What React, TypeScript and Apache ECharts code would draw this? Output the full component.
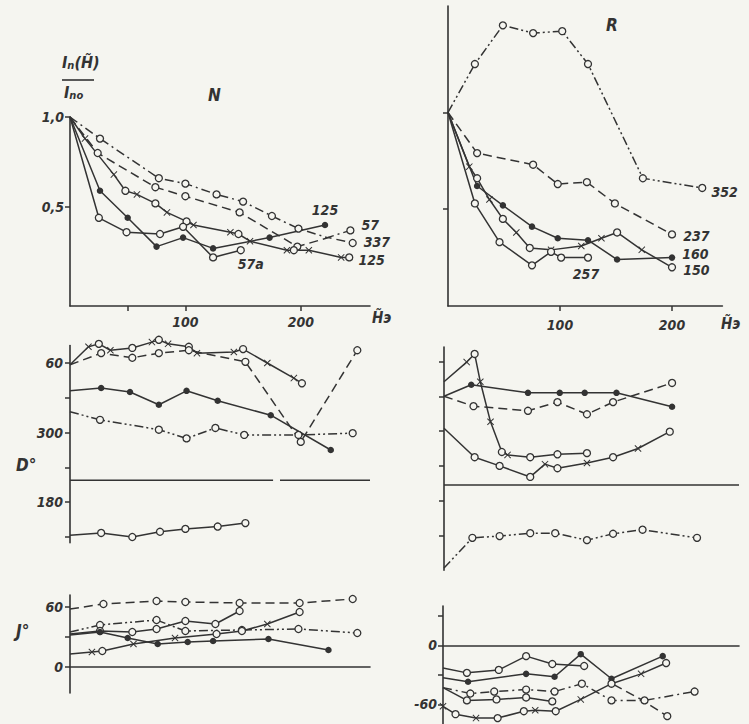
import React, { useEffect, useRef } from "react";
import * as echarts from "echarts";

// ---------- data (H in Oe) ----------
// Top-left panel N : I_n(H)/I_n0
const nH57 = [0, 26, 77, 100, 127, 150, 175, 198, 223, 243];
const nI57 = [1.0, 0.88, 0.66, 0.63, 0.57, 0.53, 0.45, 0.38, 0.33, 0.37];
const nM57 = "nooooooono";
const nH337 = [0, 24, 74, 100, 147, 197, 224, 245];
const nI337 = [1.0, 0.8, 0.61, 0.56, 0.47, 0.28, 0.33, 0.3];
const nM337 = "nooooono";
const nH125b = [0, 13, 38, 48, 58, 74, 84, 101, 107, 139, 146, 156, 188, 194, 207, 235, 242];
const nI125b = [1.0, 0.88, 0.68, 0.59, 0.57, 0.52, 0.47, 0.42, 0.4, 0.36, 0.35, 0.31, 0.26, 0.26, 0.26, 0.22, 0.22];
const nM125b = "nxxoxoxoxxoxxoxxo";
const nH125a = [0, 26, 50, 75, 98, 124, 173, 221];
const nI125a = [1.0, 0.59, 0.44, 0.28, 0.33, 0.27, 0.33, 0.4];
const nM125a = "nfffffff";
const nH57a = [0, 25, 49, 78, 98, 124, 148];
const nI57a = [1.0, 0.44, 0.36, 0.35, 0.39, 0.22, 0.26];
const nM57a = "noooooo";

// Top-right panel R
const rH352 = [0, 24, 49, 76, 102, 125, 174, 227];
const rI352 = [1.0, 1.25, 1.45, 1.41, 1.42, 1.25, 0.66, 0.61];
const rM352 = "nooooooo";
const rH237 = [0, 26, 76, 98, 124, 149, 200];
const rI237 = [1.0, 0.79, 0.73, 0.63, 0.64, 0.53, 0.37];
const rM237 = "nooooooo";
const rH160 = [0, 26, 49, 75, 98, 125, 151, 200];
const rI160 = [1.0, 0.62, 0.52, 0.41, 0.35, 0.34, 0.24, 0.25];
const rM160 = "nfffffff";
const rH150 = [0, 19, 26, 37, 49, 61, 73, 92, 119, 137, 151, 173, 200];
const rI150 = [1.0, 0.72, 0.66, 0.55, 0.45, 0.38, 0.3, 0.29, 0.31, 0.35, 0.38, 0.29, 0.2];
const rM150 = "nxoxoxoxxxoxo";
const rH257 = [0, 24, 46, 75, 92, 101, 125];
const rI257 = [1.0, 0.53, 0.33, 0.21, 0.28, 0.25, 0.25];
const rM257 = "noooooo";

// Middle panels: declination D (unwrapped: values > 180 stored as D - 360)
const dNH_a = [0, 16, 25, 35, 54, 71, 77, 85, 103, 110, 142, 150, 171, 194, 201];
const dNU_a = [57, 88, 93, 82, 86, 96, 100, 93, 88, 77, 79, 84, 60, 34, 25];
const dNM_a = "nxoxoxoxoxxoxxo";
const dNH_b = [0, 27, 54, 77, 103, 152, 200, 249];
const dNU_b = [57, 77, 69, 77, 82, 62, -76, 82];
const dNM_b = "nooooooo";
const dNH_c = [0, 27, 52, 77, 101, 128, 174, 226];
const dNU_c = [12, 17, 10, -12, 12, -5, -30, -90];
const dNM_c = "nfffffff";
const dNH_d = [0, 26, 77, 101, 126, 151, 198, 245];
const dNU_d = [-24, -38, -55, -70, -52, -64, -64, -61];
const dNM_d = "nooooooo";
const dNH_e = [0, 27, 54, 78, 100, 128, 152];
const dNU_e = [-237, -233, -240, -231, -226, -222, -216];
const dNM_e = "noooooo";
const dNSepH1 = [0, 176];
const dNSepH2 = [182, 260];
const dNSepU = -142;

const dRH_a = [0, 20, 27, 32, 41, 51, 56, 76, 100, 126];
const dRU_a = [25, 59, 73, 25, -44, -96, -101, -105, -100, -98];
const dRM_a = "nxoxxoxooo";
const dRH_b = [0, 27, 49, 76, 89, 100, 126, 149, 171, 199];
const dRU_b = [-55, -105, -120, -139, -117, -124, -115, -105, -90, -61];
const dRM_b = "noooxoxoxo";
const dRH_c = [0, 24, 74, 102, 124, 152, 201];
const dRU_c = [0, 20, 6, 6, 6, 6, -18];
const dRM_c = "nffffff";
const dRH_d = [0, 26, 74, 100, 126, 149, 201];
const dRU_d = [0, -17, -25, -10, -31, -10, 23];
const dRM_d = "nooooooo";
const dRH_e = [0, 25, 49, 76, 98, 126, 149, 175, 223];
const dRU_e = [-296, -244, -241, -236, -236, -248, -237, -230, -244];
const dRM_e = "noooooooo";
const dRSepH = [0, 260];
const dRSepU = -153;

// Bottom panels: inclination J
const jNH_a = [0, 29, 75, 100, 147, 199, 245];
const jNJ_a = [58, 63, 66, 65, 64, 64, 68];
const jNM_a = "noooooo";
const jNH_b = [0, 26, 75, 100, 149, 198, 249];
const jNJ_b = [35, 42, 47, 36, 37, 38, 34];
const jNM_b = "nooooooo";
const jNH_c = [0, 26, 54, 75, 100, 126, 147];
const jNJ_c = [33, 36, 35, 38, 46, 43, 56];
const jNM_c = "nooooooo";
const jNH_d = [0, 26, 50, 76, 102, 124, 172, 224];
const jNJ_d = [32, 35, 29, 23, 25, 26, 28, 17];
const jNM_d = "nfffffff";
const jNH_e = [0, 19, 28, 55, 91, 127, 149, 171, 199];
const jNJ_e = [13, 15, 16, 23, 29, 33, 36, 43, 55];
const jNM_e = "nxoxxooxo";

const jRH_a = [0, 21, 49, 73, 96, 124];
const jRJ_a = [-23, -28, -25, -11, -19, -21];
const jRM_a = "noooooo";
const jRH_b = [0, 22, 73, 98, 121, 148, 193];
const jRJ_b = [-33, -37, -29, -32, -9, -34, -11];
const jRM_b = "nffffff";
const jRH_d = [0, 24, 45, 73, 98, 122, 148, 177, 221];
const jRJ_d = [-43, -49, -47, -45, -47, -39, -56, -56, -47];
const jRM_d = "noooooooo";
const jRH_e = [0, 21, 47, 73, 96];
const jRJ_e = [-43, -56, -55, -53, -57];
const jRM_e = "noooo";
const jRH_f = [0, 11, 29, 48, 71, 81, 99, 121, 148, 174, 196];
const jRJ_f = [-62, -70, -74, -74, -67, -66, -67, -55, -39, -29, -18];
const jRM_f = "xoxooxoxoxo";
const jRH_g = [150, 174, 197];
const jRJ_g = [-40, -55, -72];
const jRM_g = "nno";

// ---------- styling ----------
const BG = "#f5f5f0";
const INK = "#333333";
const FONT = "'DejaVu Sans Condensed','Liberation Sans Narrow','DejaVu Sans',sans-serif";
const XPATH = "path://M1,0L5,4L9,0L10,1L6,5L10,9L9,10L5,6L1,10L0,9L4,5L0,1Z";
const SOLID = "solid";
const DASH = [9, 5];
const DASHDOT = [9, 4, 2, 4];
const DDOT = [9, 3, 2, 3, 2, 3];

const txt = { color: INK, fontFamily: FONT, fontStyle: "italic", fontWeight: "bold", fontSize: 15 };

function line(g: number, xs: number[], ys: number[], marks: string, dash: any, label?: string, lopt?: any) {
  return {
    type: "line",
    xAxisIndex: g,
    yAxisIndex: g,
    silent: true,
    clip: false,
    lineStyle: { color: INK, width: 1.5, type: dash },
    itemStyle: { color: INK },
    emphasis: { disabled: true },
    data: xs.map((x, i) => {
      const m = marks[i];
      const item: any = { value: [x, ys[i]] };
      if (m === "o") {
        item.symbol = "circle";
        item.symbolSize = 7;
        item.itemStyle = { color: BG, borderColor: INK, borderWidth: 1.3 };
      } else if (m === "f") {
        item.symbol = "circle";
        item.symbolSize = 6.5;
        item.itemStyle = { color: INK };
      } else if (m === "x") {
        item.symbol = XPATH;
        item.symbolSize = 7;
        item.itemStyle = { color: INK };
      } else {
        item.symbol = "none";
      }
      if (label && i === xs.length - 1) {
        item.label = {
          show: true, formatter: label, position: "right", distance: 5,
          ...txt, fontSize: 14, lineHeight: 12, ...(lopt || {}),
        };
      }
      return item;
    }),
  };
}

const axLine = { show: true, onZero: false, lineStyle: { color: INK, width: 1.6 } };
const tick = (vals: number[], show = true) => ({ show, customValues: vals, length: 5, lineStyle: { color: INK, width: 1.5 } });

export default function App() {
  const ref = useRef<HTMLDivElement>(null);
  useEffect(() => {
    const chart = echarts.init(ref.current!, null, { renderer: "svg" });
    const grids = [
      { left: 70, top: 117, width: 300, height: 189 },
      { left: 448, top: 6, width: 274.4, height: 300 },
      { left: 70, top: 345.6, width: 300, height: 197.2 },
      { left: 444, top: 347, width: 295, height: 223.3 },
      { left: 70, top: 595, width: 300, height: 98 },
      { left: 443, top: 606, width: 296, height: 120 },
    ];
    const xAxis = [
      { gridIndex: 0, type: "value", min: 0, max: 260, axisLine: axLine, axisTick: tick([50, 100, 200]),
        axisLabel: { customValues: [100, 200], margin: 9, ...txt, fontSize: 14 }, splitLine: { show: false } },
      { gridIndex: 1, type: "value", min: 0, max: 245, axisLine: axLine, axisTick: tick([100, 200]),
        axisLabel: { customValues: [100, 200], margin: 12, ...txt, fontSize: 14 }, splitLine: { show: false } },
      { gridIndex: 2, type: "value", min: 0, max: 260, show: false },
      { gridIndex: 3, type: "value", min: 0, max: 260, show: false },
      { gridIndex: 4, type: "value", min: 0, max: 260, axisLine: { show: true, onZero: true, lineStyle: { color: INK, width: 1.6 } },
        axisTick: { show: false }, axisLabel: { show: false }, splitLine: { show: false } },
      { gridIndex: 5, type: "value", min: 0, max: 260, axisLine: { show: true, onZero: true, lineStyle: { color: INK, width: 1.6 } },
        axisTick: { show: false }, axisLabel: { show: false }, splitLine: { show: false } },
    ];
    const dLabel = (v: number) => (v === 60 ? "60" : v === -60 ? "300" : v === -180 ? "180" : "");
    const yAxis = [
      { gridIndex: 0, type: "value", min: -0.05, max: 1.0, axisLine: axLine, axisTick: tick([0.5, 1.0]),
        axisLabel: { customValues: [0.5, 1.0], margin: 6, formatter: (v: number) => (v === 1 ? "1,0" : "0,5"), ...txt, fontSize: 14 },
        splitLine: { show: false } },
      { gridIndex: 1, type: "value", min: 0, max: 1.55, axisLine: axLine, axisTick: tick([0.5, 1.0]),
        axisLabel: { show: false }, splitLine: { show: false } },
      { gridIndex: 2, type: "value", min: -250, max: 90, axisLine: axLine, axisTick: tick([60, 0, -60, -120, -180, -240]),
        axisLabel: { customValues: [60, -60, -180], margin: 7, formatter: dLabel, ...txt, fontSize: 14 }, splitLine: { show: false } },
      { gridIndex: 3, type: "value", min: -300, max: 85, axisLine: axLine, axisTick: tick([60, 0, -60, -120, -180, -240]),
        axisLabel: { show: false }, splitLine: { show: false } },
      { gridIndex: 4, type: "value", min: -26, max: 72, axisLine: axLine, axisTick: tick([60, 30, 0]),
        axisLabel: { customValues: [60, 0], margin: 7, ...txt, fontSize: 14 }, splitLine: { show: false } },
      { gridIndex: 5, type: "value", min: -80, max: 40, axisLine: axLine, axisTick: tick([30, 0, -30, -60]),
        axisLabel: { customValues: [0, -60], margin: 6, ...txt, fontSize: 14 }, splitLine: { show: false } },
    ];
    const sep = (g: number, hs: number[], u: number) => line(g, hs, hs.map(() => u), "nn", SOLID);
    const series = [
      // top N
      line(0, nH57, nI57, nM57, DASHDOT, "57", { offset: [2, -5] }),
      line(0, nH337, nI337, nM337, DASH, "337", { offset: [2, -1] }),
      line(0, nH125b, nI125b, nM125b, SOLID, "125", { offset: [0, 3] }),
      line(0, nH125a, nI125a, nM125a, SOLID, "125", { position: "top", distance: 6 }),
      line(0, nH57a, nI57a, nM57a, SOLID, "57a", { position: "bottom", distance: 4, offset: [10, 0] }),
      // top R
      line(1, rH352, rI352, rM352, DDOT, "352", { offset: [0, 4] }),
      line(1, rH237, rI237, rM237, DASH, "237", { offset: [2, 2] }),
      line(1, rH160, rI160, rM160, SOLID, "160", { offset: [2, -4] }),
      line(1, rH150, rI150, rM150, SOLID, "150", { offset: [2, 3] }),
      line(1, rH257, rI257, rM257, SOLID, "257", { position: "bottom", distance: 6, offset: [-2, 0] }),
      // middle N
      line(2, dNH_a, dNU_a, dNM_a, SOLID),
      line(2, dNH_b, dNU_b, dNM_b, DASH),
      line(2, dNH_c, dNU_c, dNM_c, SOLID),
      line(2, dNH_d, dNU_d, dNM_d, DDOT),
      line(2, dNH_e, dNU_e, dNM_e, SOLID),
      sep(2, dNSepH1, dNSepU),
      sep(2, dNSepH2, dNSepU),
      // middle R
      line(3, dRH_a, dRU_a, dRM_a, SOLID),
      line(3, dRH_b, dRU_b, dRM_b, SOLID),
      line(3, dRH_c, dRU_c, dRM_c, SOLID),
      line(3, dRH_d, dRU_d, dRM_d, DASH),
      line(3, dRH_e, dRU_e, dRM_e, DDOT),
      sep(3, dRSepH, dRSepU),
      // bottom N
      line(4, jNH_a, jNJ_a, jNM_a, DASH),
      line(4, jNH_b, jNJ_b, jNM_b, DDOT),
      line(4, jNH_c, jNJ_c, jNM_c, SOLID),
      line(4, jNH_d, jNJ_d, jNM_d, SOLID),
      line(4, jNH_e, jNJ_e, jNM_e, SOLID),
      // bottom R
      line(5, jRH_a, jRJ_a, jRM_a, SOLID),
      line(5, jRH_b, jRJ_b, jRM_b, SOLID),
      line(5, jRH_d, jRJ_d, jRM_d, DASHDOT),
      line(5, jRH_e, jRJ_e, jRM_e, SOLID),
      line(5, jRH_f, jRJ_f, jRM_f, SOLID),
      line(5, jRH_g, jRJ_g, jRM_g, DASH),
    ];
    const T = (x: number, y: number, text: string, size = 15, extra: any = {}) => ({
      type: "text", x, y, silent: true,
      style: { text, fill: INK, font: `italic bold ${size}px ${FONT}`, ...extra },
    });
    const rich = {
      i: { fontSize: 16, fontStyle: "italic", fontWeight: "bold", fontFamily: FONT, fill: INK },
      s: { fontSize: 11, fontStyle: "italic", fontWeight: "bold", fontFamily: FONT, fill: INK, verticalAlign: "bottom", padding: [6, 0, 0, 0] },
    };
    chart.setOption({
      animation: false,
      backgroundColor: BG,
      grid: grids,
      xAxis,
      yAxis,
      series,
      graphic: [
        T(208, 86, "N", 17),
        T(606, 16, "R", 17),
        T(372, 310, "H\u0303э", 15),
        T(721, 316, "H\u0303э", 15),
        T(16, 456, "D°", 17),
        T(16, 622, "J°", 17),
        { type: "text", x: 62, y: 54, silent: true,
          style: { text: "{i|I}{s|n}{i|(H\u0303)}", fill: INK, font: `italic bold 16px ${FONT}`, rich } },
        { type: "line", silent: true, shape: { x1: 62, y1: 80, x2: 94, y2: 80 }, style: { stroke: INK, lineWidth: 1.6 } },
        { type: "text", x: 64, y: 84, silent: true,
          style: { text: "{i|I}{s|no}", fill: INK, font: `italic bold 16px ${FONT}`, rich } },
      ],
    });
    return () => chart.dispose();
  }, []);
  return <div ref={ref} style={{ position: "fixed", left: 0, top: 0, width: 749, height: 724 }} />;
}
